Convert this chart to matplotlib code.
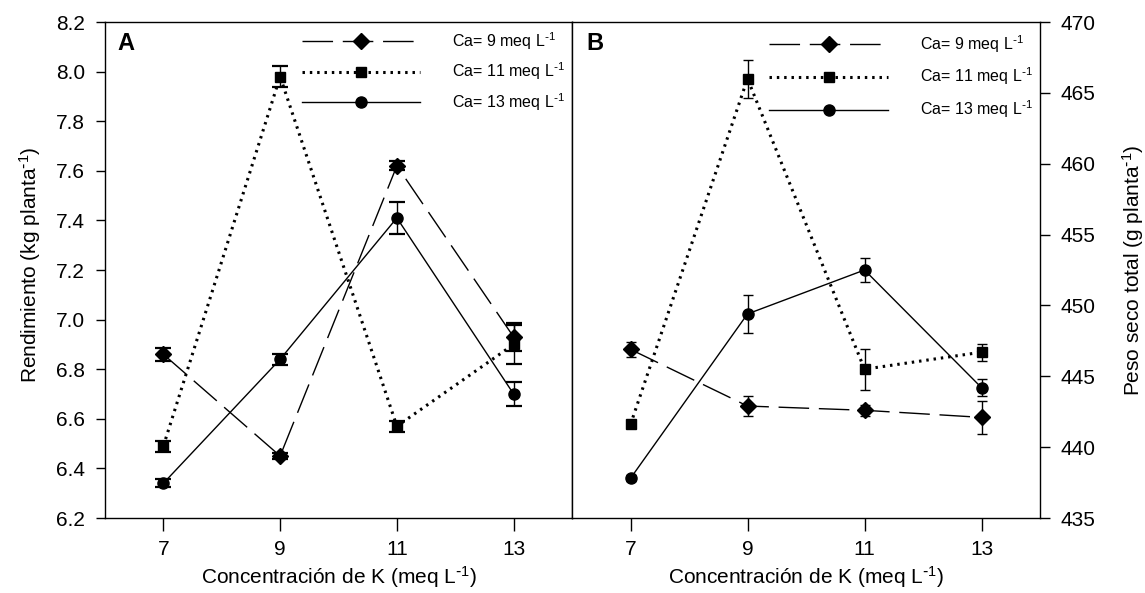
import matplotlib
matplotlib.use("Agg")
import matplotlib.pyplot as plt
from matplotlib.font_manager import FontProperties

plt.rcParams["font.family"] = ["Liberation Sans", "DejaVu Sans"]
plt.rcParams["mathtext.default"] = "regular"

# Potassium concentration in the nutrient solution (meq L-1)
k_conc = [7, 9, 11, 13]
ca_labels = ["Ca= 9 meq L$^{\\text{-}1}$", "Ca= 11 meq L$^{\\text{-}1}$",
             "Ca= 13 meq L$^{\\text{-}1}$"]

# Panel A: yield (kg per plant), with standard errors
yield_ca9 = [6.86, 6.45, 7.62, 6.93]
yield_ca9_err = [0.025, 0.012, 0.018, 0.055]
yield_ca11 = [6.49, 7.98, 6.57, 6.90]
yield_ca11_err = [0.022, 0.043, 0.022, 0.080]
yield_ca13 = [6.34, 6.84, 7.41, 6.70]
yield_ca13_err = [0.016, 0.022, 0.066, 0.048]

# Panel B: total dry weight (g per plant), with standard errors
dry_ca9 = [446.9, 442.9, 442.6, 442.1]
dry_ca9_err = [0.55, 0.70, 0.40, 1.15]
dry_ca11 = [441.6, 466.0, 445.5, 446.7]
dry_ca11_err = [0.15, 1.35, 1.45, 0.60]
dry_ca13 = [437.8, 449.4, 452.5, 444.2]
dry_ca13_err = [0.20, 1.35, 0.85, 0.60]

W, H = 1145, 593
fig = plt.figure(figsize=(W / 100, H / 100), dpi=100)

ax_a = fig.add_axes([105 / W, 1 - 518 / H, 467 / W, 496 / H])
ax_b = fig.add_axes([572 / W, 1 - 518 / H, 468 / W, 496 / H])

styles = [
    dict(ls=(0, (22, 7)), lw=1.0, marker="D", ms=8),
    dict(ls=(0, (0.8, 1.6)), lw=2.2, marker="s", ms=7),
    dict(ls="-", lw=1.0, marker="o", ms=8),
]

legend_font = FontProperties(family=["Liberation Sans Narrow", "Liberation Sans"], size=11.5)


def draw_panel(ax, series, errors, capsize, capthick, legend_top, spacing):
    for (vals, err), st, lab in zip(zip(series, errors), styles, ca_labels):
        ax.errorbar(k_conc, vals, yerr=err, fmt="none", ecolor="black",
                    elinewidth=1.0, capsize=capsize, capthick=capthick, zorder=2)
        ax.plot(k_conc, vals, color="black", linestyle=st["ls"], linewidth=st["lw"],
                marker=st["marker"], markersize=st["ms"], markerfacecolor="black",
                markeredgecolor="black", label=lab, zorder=3)
    ax.set_xlim(6, 14)
    ax.set_xticks(k_conc)
    ax.tick_params(axis="x", direction="out", length=9.5, width=1, labelsize=15, pad=6)
    ax.set_xlabel("Concentración de K (meq L$^{\\text{-}1}$)", fontsize=15, labelpad=4)
    for sp in ax.spines.values():
        sp.set_linewidth(1.0)
        sp.set_color("black")
    ax.legend(loc="upper left", bbox_to_anchor=(197 / 467, legend_top), frameon=False,
              prop=legend_font, handlelength=7.4, handletextpad=2.0,
              labelspacing=spacing, borderpad=0, borderaxespad=0, numpoints=1)


draw_panel(ax_a, [yield_ca9, yield_ca11, yield_ca13],
           [yield_ca9_err, yield_ca11_err, yield_ca13_err], capsize=5.5, capthick=1.6,
           legend_top=0.984, spacing=0.55)
ax_a.set_ylim(6.2, 8.2)
ax_a.set_yticks([6.2, 6.4, 6.6, 6.8, 7.0, 7.2, 7.4, 7.6, 7.8, 8.0, 8.2])
ax_a.set_yticklabels([f"{v:.1f}" for v in ax_a.get_yticks()])
ax_a.tick_params(axis="y", direction="out", length=6.5, width=1, labelsize=15, pad=8)
ax_a.text(0.026, 0.957, "A", transform=ax_a.transAxes, fontsize=17,
          fontweight="bold", ha="left", va="center")

draw_panel(ax_b, [dry_ca9, dry_ca11, dry_ca13],
           [dry_ca9_err, dry_ca11_err, dry_ca13_err], capsize=3.5, capthick=1.0,
           legend_top=0.978, spacing=0.7)
ax_b.set_ylim(435, 470)
ax_b.set_yticks([435, 440, 445, 450, 455, 460, 465, 470])
ax_b.yaxis.tick_right()
ax_b.tick_params(axis="y", which="both", left=False, right=True, labelleft=False,
                 labelright=True, direction="out", length=7, width=1, labelsize=15, pad=8)
ax_b.text(0.031, 0.957, "B", transform=ax_b.transAxes, fontsize=17,
          fontweight="bold", ha="left", va="center")

fig.text(30 / W, 1 - 265 / H, "Rendimiento (kg planta$^{\\text{-}1}$)", rotation=90,
         ha="center", va="center", fontsize=15)
fig.text(1133 / W, 1 - 270 / H, "Peso seco total (g planta$^{\\text{-}1}$)", rotation=90,
         ha="center", va="center", fontsize=15)

fig.savefig("out.png", dpi=100)
